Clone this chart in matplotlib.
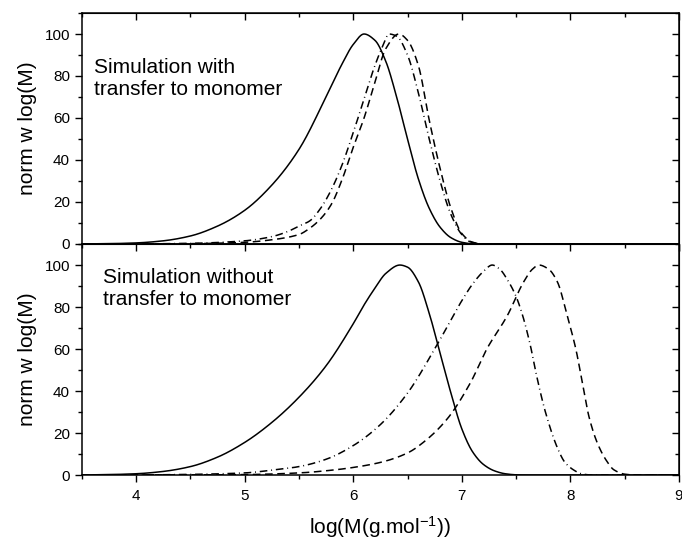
import matplotlib.pyplot as plt
import numpy as np
from matplotlib.ticker import MultipleLocator

plt.rcParams['font.family'] = ['Liberation Sans', 'DejaVu Sans']
plt.rcParams['mathtext.default'] = 'regular'

# upper panel: simulation with transfer to monomer
top_solid_x = [3.5, 3.75, 4.0, 4.25, 4.5, 4.75, 5.0, 5.25, 5.5, 5.75, 5.9, 6.0, 6.1,
               6.2, 6.3, 6.4, 6.5, 6.6, 6.7, 6.8, 6.9, 7.0, 7.1, 7.2, 9.0]
top_solid_y = [0, 0.15, 0.5, 1.5, 3.8, 8.5, 16, 28, 45, 70, 86, 95, 100,
               97, 87, 70, 50, 31, 17, 8, 3, 0.8, 0.1, 0, 0]

top_dashdot_x = [3.5, 4.0, 4.5, 5.0, 5.25, 5.4, 5.5, 5.6, 5.7, 5.8, 5.9, 6.0, 6.1, 6.2, 6.27,
                 6.33, 6.4, 6.5, 6.6, 6.7, 6.8, 6.9, 7.0, 7.08, 7.2, 9.0]
top_dashdot_y = [0, 0.05, 0.3, 1.5, 3.5, 6, 8.5, 11, 17, 26, 38, 53, 69, 85, 94,
                 100, 99, 90, 72, 50, 30, 14, 4.5, 1, 0, 0]

top_dash_x = [3.5, 4.0, 4.5, 5.0, 5.25, 5.5, 5.6, 5.7, 5.8, 5.9, 6.0, 6.1, 6.2, 6.3,
              6.42, 6.5, 6.6, 6.7, 6.8, 6.9, 7.0, 7.1, 7.2, 9.0]
top_dash_y = [0, 0.02, 0.15, 0.8, 2, 4.5, 7.5, 12, 19, 31, 46, 60, 77, 93,
              100, 97, 85, 59, 36, 17, 5, 0.8, 0, 0]

# lower panel: simulation without transfer to monomer
low_solid_x = [3.5, 3.75, 4.0, 4.25, 4.5, 4.75, 5.0, 5.25, 5.5, 5.75, 6.0, 6.1, 6.2, 6.3,
               6.43, 6.5, 6.6, 6.7, 6.8, 6.9, 7.0, 7.1, 7.2, 7.3, 7.4, 7.5, 7.6, 9.0]
low_solid_y = [0, 0.2, 0.6, 1.7, 4, 8.5, 15.5, 25, 37, 52, 72, 81, 89, 96,
               100, 99, 92, 77, 58, 39, 22, 11, 5, 2, 0.6, 0.1, 0, 0]

low_dashdot_x = [3.5, 4.0, 4.5, 5.0, 5.25, 5.5, 5.75, 6.0, 6.25, 6.5, 6.75, 7.0, 7.1, 7.2,
                 7.28, 7.35, 7.42, 7.5, 7.56, 7.63, 7.69, 7.77, 7.88, 7.95, 8.03, 8.1, 8.2, 9.0]
low_dashdot_y = [0, 0.05, 0.3, 1, 2.3, 4, 7.5, 14, 24, 39, 60, 83, 91, 97,
                 100, 98, 93, 85, 76, 62, 47, 30, 13, 6, 2.4, 0.6, 0, 0]

low_dash_x = [3.5, 4.5, 5.0, 5.5, 5.82, 6.0, 6.25, 6.5, 6.68, 6.87, 7.08, 7.23, 7.42, 7.57,
              7.65, 7.71, 7.8, 7.88, 7.97, 8.05, 8.11, 8.17, 8.25, 8.33, 8.4, 8.5, 8.6, 9.0]
low_dash_y = [0, 0.05, 0.2, 1, 2.4, 3.6, 6, 10.5, 17, 27, 44, 60, 76, 92,
              98, 100, 98, 92, 76, 60, 44, 28, 15, 7, 2.5, 0.4, 0, 0]

labels = ['Simulation with\ntransfer to monomer', 'Simulation without\ntransfer to monomer']


def smooth(xs, ys):
    # monotone cubic resampling so the curves look like continuous lines
    xs = np.asarray(xs, float)
    ys = np.asarray(ys, float)
    xf = np.linspace(xs[0], xs[-1], 1500)
    n = len(xs)
    d = np.diff(ys) / np.diff(xs)
    m = np.zeros(n)
    m[0], m[-1] = d[0], d[-1]
    for i in range(1, n - 1):
        if d[i - 1] * d[i] <= 0:
            m[i] = 0
        else:
            w1 = 2 * (xs[i + 1] - xs[i]) + (xs[i] - xs[i - 1])
            w2 = (xs[i + 1] - xs[i]) + 2 * (xs[i] - xs[i - 1])
            m[i] = (w1 + w2) / (w1 / d[i - 1] + w2 / d[i])
    idx = np.clip(np.searchsorted(xs, xf) - 1, 0, n - 2)
    h = xs[idx + 1] - xs[idx]
    t = (xf - xs[idx]) / h
    yf = ((2 * t**3 - 3 * t**2 + 1) * ys[idx] + (t**3 - 2 * t**2 + t) * h * m[idx]
          + (-2 * t**3 + 3 * t**2) * ys[idx + 1] + (t**3 - t**2) * h * m[idx + 1])
    return xf, yf


fig = plt.figure(figsize=(6.82, 5.44), dpi=100)
ax_top = fig.add_axes([0.1198, 0.5515, 0.8758, 0.4246])
ax_low = fig.add_axes([0.1198, 0.1268, 0.8758, 0.4246])

data = [
    (ax_top, (top_solid_x, top_solid_y), (top_dashdot_x, top_dashdot_y), (top_dash_x, top_dash_y)),
    (ax_low, (low_solid_x, low_solid_y), (low_dashdot_x, low_dashdot_y), (low_dash_x, low_dash_y)),
]
text_pos = [(0.02, 0.805), (0.035, 0.895)]

for i, (ax, s, dd, ds) in enumerate(data):
    ax.plot(*smooth(*s), color='black', lw=1.1, ls='-')
    ax.plot(*smooth(*dd), color='black', lw=1.1, ls=(0, (5, 2.5, 0.6, 2.5)))
    ax.plot(*smooth(*ds), color='black', lw=1.1, ls=(0, (5, 3)))

    ax.set_xlim(3.5, 9)
    ax.set_ylim(0, 110)
    ax.xaxis.set_major_locator(MultipleLocator(1))
    ax.xaxis.set_minor_locator(MultipleLocator(0.5))
    ax.yaxis.set_minor_locator(MultipleLocator(10))
    ax.set_yticks([0, 20, 40, 60, 80, 100])
    ax.tick_params(which='both', direction='out', top=False, right=False, labelsize=11, width=1)
    ax.tick_params(which='major', length=5)
    ax.tick_params(which='minor', length=3)
    ax.tick_params(axis='x', pad=5)
    for sp in ax.spines.values():
        sp.set_linewidth(1.1)
    ax.set_ylabel('norm w log(M)', fontsize=15, labelpad=5)

    # mirrored ticks pointing into the plot on top and right
    sec_x = ax.secondary_xaxis('top')
    sec_x.xaxis.set_major_locator(MultipleLocator(1))
    sec_x.xaxis.set_minor_locator(MultipleLocator(0.5))
    sec_x.tick_params(which='both', direction='in', labeltop=False, width=1)
    sec_x.tick_params(which='major', length=5)
    sec_x.tick_params(which='minor', length=3)
    sec_y = ax.secondary_yaxis('right')
    sec_y.yaxis.set_major_locator(MultipleLocator(20))
    sec_y.yaxis.set_minor_locator(MultipleLocator(10))
    sec_y.tick_params(which='both', direction='in', labelright=False, width=1)
    sec_y.tick_params(which='major', length=5)
    sec_y.tick_params(which='minor', length=3)

    ax.text(text_pos[i][0], text_pos[i][1], labels[i], transform=ax.transAxes, fontsize=15,
            va='top', ha='left', linespacing=1.2)

ax_top.tick_params(labelbottom=False)
ax_low.set_xlabel('log(M(g.mol$^{-1}$))', fontsize=15, labelpad=8)

fig.savefig('out.png', dpi=100)
